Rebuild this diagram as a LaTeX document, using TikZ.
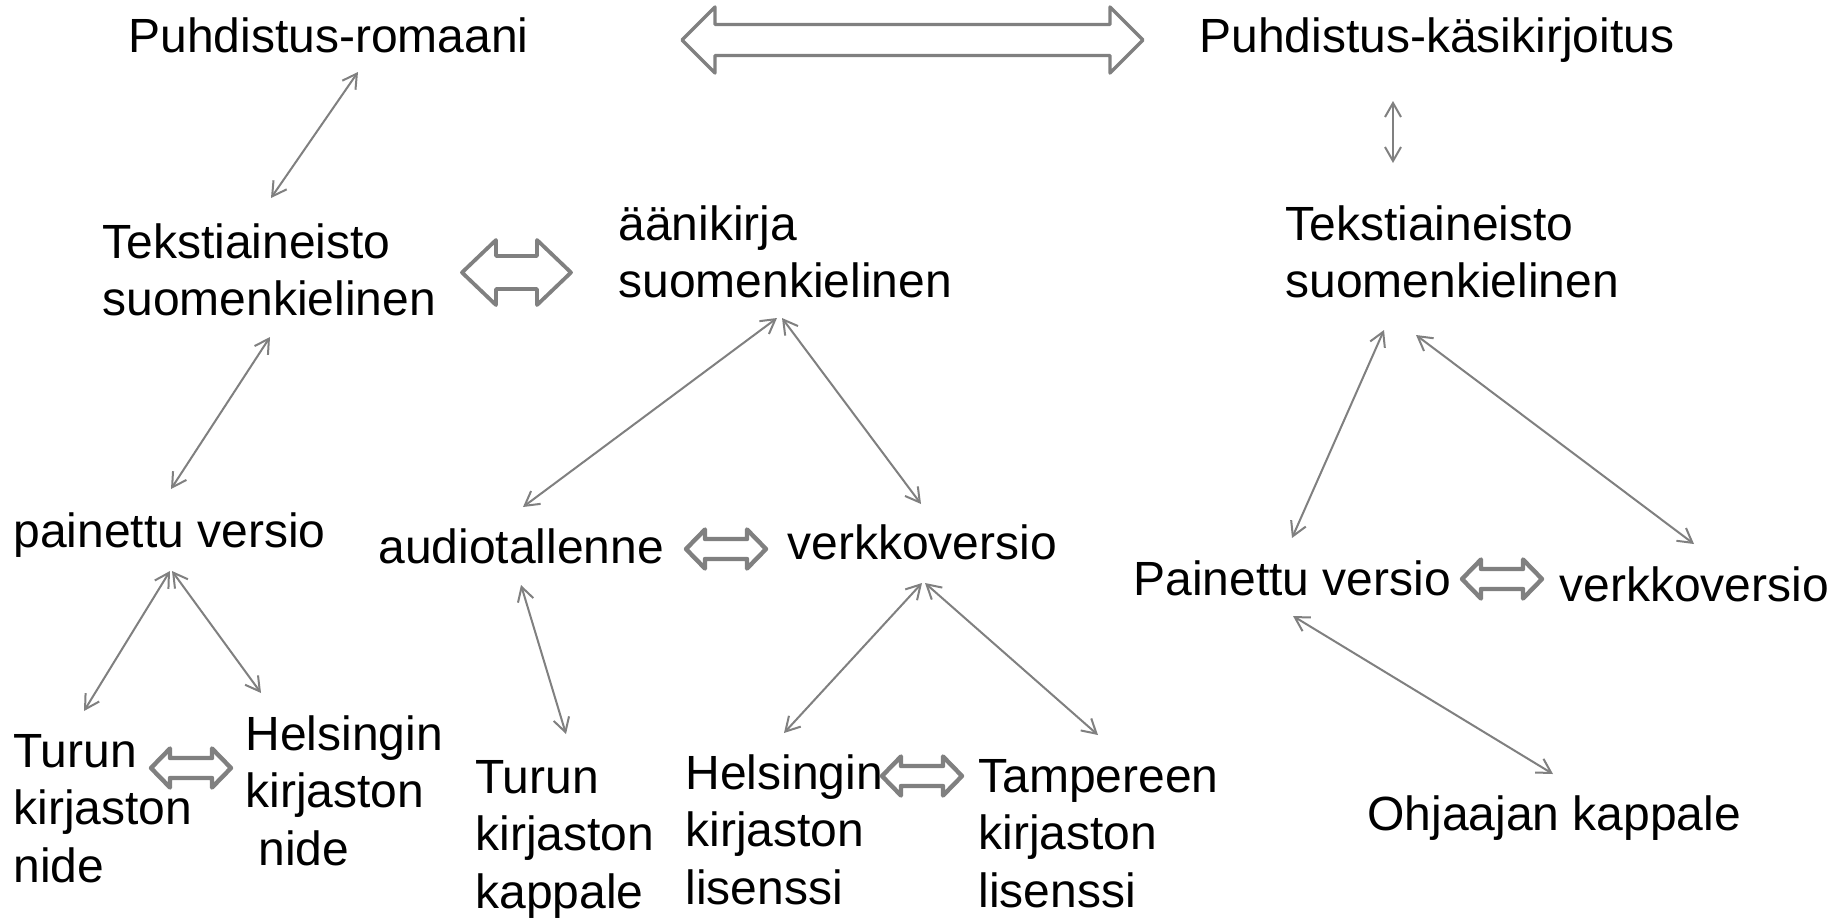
\documentclass[tikz,border=0pt]{standalone}
\usepackage{fontspec}
\setmainfont{Liberation Sans}
\usetikzlibrary{arrows.meta,calc}
\definecolor{linkgray}{HTML}{808080}
\tikzset{
    txt/.style={anchor=base west,inner sep=0pt,align=left,font=\fontsize{24pt}{28.75pt}\selectfont},
    link/.style={linkgray,line width=1pt,{Straight Barb[length=7pt,width=8pt]}-{Straight Barb[length=7pt,width=8pt]}},
    blockarrow/.style={draw=linkgray,fill=white,line join=round},
    pics/dbl/.style n args={4}{code={
        \draw[blockarrow] (-#1,0) -- (-#1+#4,-#2) -- (-#1+#4,-#3) -- (#1-#4,-#3) -- (#1-#4,-#2)
            -- (#1,0) -- (#1-#4,#2) -- (#1-#4,#3) -- (-#1+#4,#3) -- (-#1+#4,#2) -- cycle;
    }}
}
\begin{document}
\begin{tikzpicture}[x=0.5pt,y=-0.5pt]
    \path[use as bounding box,fill=white] (0,0) rectangle (1847,917);

    \node[txt] (pr) at (128,52) {Puhdistus-romaani};
    \node[txt] (pk) at (1199,52) {Puhdistus-käsikirjoitus};
    \node[txt] (tl) at (102,315.5) {Tekstiaineisto\\suomenkielinen};
    \node[txt] (ak) at (618,297.5) {äänikirja\\suomenkielinen};
    \node[txt] (tr) at (1285,297.5) {Tekstiaineisto\\suomenkielinen};
    \node[txt] (pv) at (13,547) {painettu versio};
    \node[txt] (at) at (378,563) {audiotallenne};
    \node[txt] (vm) at (787,559) {verkkoversio};
    \node[txt] (pvr) at (1133,595) {Painettu versio};
    \node[txt] (vr) at (1559,601) {verkkoversio};
    \node[txt] (tn) at (13,882) {Turun\\kirjaston\\nide};
    \node[txt] (hn) at (245,865) {Helsingin\\kirjaston\\\hspace*{6.5pt}nide};
    \node[txt] (tk) at (475,908) {Turun\\kirjaston\\kappale};
    \node[txt] (hl) at (685,904) {Helsingin\\kirjaston\\lisenssi};
    \node[txt] (tal) at (978,907) {Tampereen\\kirjaston\\lisenssi};
    \node[txt] (ok) at (1367,830) {Ohjaajan kappale};

    \pic[line width=1.7pt] at (912.5,40) {dbl={230.5}{33}{15.5}{33}};
    \pic[line width=1.9pt] at (516.5,272.5) {dbl={54.5}{32.5}{16.5}{34}};
    \foreach \x/\y in {191/768, 726/549, 922/776, 1502/579}
        \pic[line width=2.2pt] at (\x,\y) {dbl={40}{19.5}{10}{19}};

    \foreach \a/\ax/\ay/\b/\bx/\by in {pr/230/20/tl/169/-117.5, tl/168/21.5/pv/158/-58,
            pv/157/24/tn/71/-171, pv/159/24/hn/16/-172, ak/159/20.5/at/145/-56,
            ak/164/20.5/vm/134/-55, at/143/22/tk/91/-174, vm/135/24/hl/99/-171,
            vm/138/24/tal/120/-172, pk/194/49/tr/108/-134.5, tr/99/32.5/pvr/159/-57,
            tr/131/37.5/vr/135/-57, pvr/160/21/ok/186/-56}
        \draw[link] ($(\a.base west)+(\ax,\ay)$) -- ($(\b.base west)+(\bx,\by)$);
\end{tikzpicture}
\end{document}
